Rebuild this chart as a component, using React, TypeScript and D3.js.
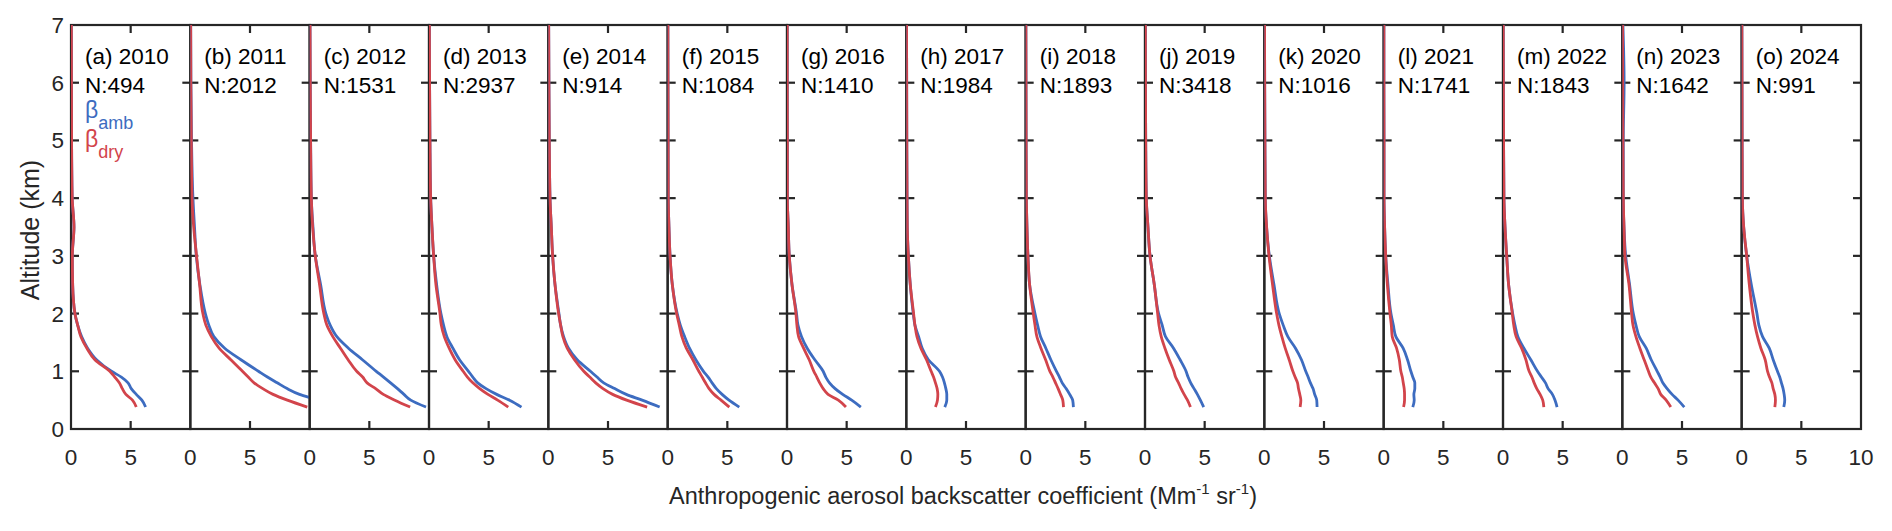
import React from "react";
import * as d3 from "d3";

// altitude grid (km) shared by every profile
const altitude = [0.38, 0.5, 0.6, 0.7, 0.8, 0.9, 1.0, 1.2, 1.4, 1.6, 1.8, 2.0, 2.5, 3.0, 3.5, 4.0, 5.0, 6.0, 7.0];

const panelLetters = ["a", "b", "c", "d", "e", "f", "g", "h", "i", "j", "k", "l", "m", "n", "o"];
const years = [2010, 2011, 2012, 2013, 2014, 2015, 2016, 2017, 2018, 2019, 2020, 2021, 2022, 2023, 2024];
const sampleCounts = [494, 2012, 1531, 2937, 914, 1084, 1410, 1984, 1893, 3418, 1016, 1741, 1843, 1642, 991];

// ambient backscatter, one row per year (Mm-1 sr-1)
const betaAmb = [
    [6.25, 5.94, 5.47, 5.05, 4.78, 4.22, 3.39, 2.14, 1.39, 0.89, 0.56, 0.33, 0.14, 0.11, 0.25, 0.1, 0.05, 0.04, 0.03],
    [12.0, 10.7, 9.15, 8.11, 7.28, 6.46, 5.71, 4.24, 2.88, 1.97, 1.55, 1.26, 0.8, 0.5, 0.35, 0.22, 0.1, 0.05, 0.03],
    [9.75, 8.47, 7.9, 7.36, 6.78, 6.19, 5.58, 4.42, 3.25, 2.28, 1.72, 1.36, 0.92, 0.47, 0.28, 0.14, 0.08, 0.05, 0.03],
    [7.75, 6.75, 5.67, 4.78, 4.08, 3.67, 3.31, 2.56, 2.0, 1.5, 1.22, 1.0, 0.64, 0.39, 0.25, 0.14, 0.08, 0.05, 0.03],
    [9.33, 7.86, 6.53, 5.56, 4.64, 4.08, 3.53, 2.42, 1.69, 1.28, 1.03, 0.89, 0.56, 0.36, 0.25, 0.14, 0.08, 0.05, 0.03],
    [6.0, 5.14, 4.56, 4.08, 3.72, 3.39, 3.0, 2.36, 1.83, 1.42, 1.06, 0.8, 0.39, 0.2, 0.11, 0.05, 0.04, 0.03, 0.02],
    [6.19, 5.42, 4.67, 4.03, 3.56, 3.25, 3.03, 2.33, 1.69, 1.22, 0.92, 0.8, 0.42, 0.19, 0.11, 0.03, 0.03, 0.02, 0.02],
    [3.22, 3.39, 3.39, 3.31, 3.19, 3.03, 2.78, 1.85, 1.33, 1.03, 0.72, 0.58, 0.33, 0.17, 0.08, 0.06, 0.04, 0.03, 0.02],
    [4.0, 3.94, 3.69, 3.39, 3.06, 2.83, 2.58, 2.11, 1.69, 1.25, 1.0, 0.78, 0.33, 0.19, 0.11, 0.06, 0.04, 0.03, 0.02],
    [4.92, 4.64, 4.39, 4.11, 3.83, 3.61, 3.44, 2.94, 2.39, 1.72, 1.44, 1.14, 0.78, 0.42, 0.25, 0.11, 0.06, 0.04, 0.03],
    [4.42, 4.39, 4.22, 4.08, 3.86, 3.67, 3.47, 3.11, 2.61, 1.97, 1.58, 1.25, 0.81, 0.42, 0.19, 0.08, 0.05, 0.03, 0.02],
    [2.44, 2.56, 2.53, 2.61, 2.61, 2.44, 2.28, 2.0, 1.63, 1.02, 0.81, 0.61, 0.36, 0.17, 0.08, 0.03, 0.03, 0.02, 0.02],
    [4.53, 4.36, 4.14, 3.78, 3.56, 3.22, 2.89, 2.33, 1.75, 1.25, 1.0, 0.81, 0.47, 0.31, 0.17, 0.08, 0.05, 0.03, 0.02],
    [5.19, 4.67, 4.17, 3.75, 3.39, 3.17, 2.92, 2.42, 2.0, 1.42, 1.14, 0.92, 0.61, 0.28, 0.14, 0.08, 0.08, 0.15, 0.05],
    [3.53, 3.61, 3.56, 3.47, 3.33, 3.19, 3.0, 2.64, 2.31, 1.75, 1.44, 1.28, 0.81, 0.42, 0.17, 0.06, 0.04, 0.03, 0.02],
];

// dry backscatter, one row per year (Mm-1 sr-1)
const betaDry = [
    [5.47, 5.15, 4.6, 4.3, 4.05, 3.67, 3.25, 2.0, 1.33, 0.83, 0.56, 0.33, 0.14, 0.11, 0.25, 0.1, 0.05, 0.04, 0.03],
    [9.8, 8.13, 6.93, 6.07, 5.34, 4.85, 4.37, 3.39, 2.41, 1.76, 1.3, 1.05, 0.78, 0.52, 0.28, 0.14, 0.08, 0.04, 0.03],
    [8.42, 7.14, 6.17, 5.53, 4.81, 4.44, 3.94, 3.22, 2.58, 1.94, 1.44, 1.19, 0.83, 0.47, 0.25, 0.14, 0.08, 0.05, 0.03],
    [6.64, 5.75, 4.94, 4.25, 3.67, 3.22, 2.86, 2.19, 1.69, 1.28, 1.03, 0.92, 0.58, 0.39, 0.25, 0.14, 0.08, 0.05, 0.03],
    [8.28, 6.56, 5.39, 4.58, 3.97, 3.47, 2.97, 2.19, 1.58, 1.22, 1.03, 0.86, 0.56, 0.36, 0.25, 0.14, 0.08, 0.05, 0.03],
    [5.17, 4.47, 3.89, 3.47, 3.17, 2.89, 2.61, 2.11, 1.56, 1.19, 0.97, 0.75, 0.39, 0.2, 0.11, 0.05, 0.04, 0.03, 0.02],
    [4.94, 4.3, 3.44, 3.03, 2.74, 2.5, 2.25, 1.86, 1.39, 0.97, 0.83, 0.75, 0.42, 0.19, 0.11, 0.03, 0.03, 0.02, 0.02],
    [2.44, 2.61, 2.64, 2.58, 2.44, 2.28, 2.08, 1.69, 1.22, 0.89, 0.72, 0.61, 0.33, 0.17, 0.08, 0.06, 0.04, 0.03, 0.02],
    [3.17, 3.11, 2.92, 2.72, 2.5, 2.28, 2.03, 1.67, 1.28, 0.94, 0.78, 0.64, 0.33, 0.19, 0.11, 0.06, 0.04, 0.03, 0.02],
    [3.81, 3.56, 3.28, 3.03, 2.81, 2.56, 2.42, 2.03, 1.67, 1.36, 1.17, 1.06, 0.78, 0.42, 0.25, 0.11, 0.06, 0.04, 0.03],
    [3.0, 3.06, 2.97, 2.86, 2.78, 2.58, 2.39, 2.08, 1.75, 1.47, 1.22, 1.03, 0.69, 0.39, 0.19, 0.08, 0.05, 0.03, 0.02],
    [1.67, 1.75, 1.75, 1.72, 1.64, 1.56, 1.44, 1.31, 1.08, 0.72, 0.64, 0.53, 0.31, 0.17, 0.08, 0.03, 0.03, 0.02, 0.02],
    [3.42, 3.33, 3.11, 2.83, 2.61, 2.42, 2.19, 1.92, 1.56, 1.1, 0.9, 0.78, 0.47, 0.31, 0.17, 0.08, 0.05, 0.03, 0.02],
    [4.06, 3.67, 3.22, 3.0, 2.69, 2.39, 2.19, 1.83, 1.47, 1.14, 0.89, 0.78, 0.56, 0.22, 0.14, 0.08, 0.05, 0.03, 0.02],
    [2.78, 2.83, 2.78, 2.64, 2.53, 2.33, 2.17, 1.97, 1.61, 1.33, 1.11, 0.94, 0.64, 0.42, 0.17, 0.06, 0.04, 0.03, 0.02],
];

const xTickValues = [0, 5, 10];
const yTickValues = [0, 1, 2, 3, 4, 5, 6, 7];

const width = 1892;
const height = 531;
const plotLeft = 71;
const plotRight = 1861;
const plotTop = 25;
const plotBottom = 429;

const blue = "#3d6cc0";
const red = "#d2444b";
const axisColor = "#262626";
const font = "'Liberation Sans', Arial, Helvetica, sans-serif";
const tickLen = 8;

const App: React.FC = () => {
    const panelWidth = (plotRight - plotLeft) / years.length;
    const yScale = d3.scaleLinear().domain([0, 7]).range([plotBottom, plotTop]);

    return (
        <svg width={width} height={height} style={{position: "absolute", left: 0, top: 0}}
             fontFamily={font}>
            <rect width={width} height={height} fill="white"/>
            <defs>
                {years.map((y, i) => (
                    <clipPath id={`clip-${i}`} key={y}>
                        <rect x={plotLeft + i * panelWidth} y={plotTop}
                              width={panelWidth} height={plotBottom - plotTop}/>
                    </clipPath>
                ))}
            </defs>

            {years.map((year, i) => {
                const x0 = plotLeft + i * panelWidth;
                const xScale = d3.scaleLinear().domain([0, 10]).range([x0, x0 + panelWidth]);
                const line = d3.line<number>()
                    .x(v => xScale(v))
                    .y((_, k) => yScale(altitude[k]))
                    .curve(d3.curveMonotoneY);
                const innerY = yTickValues.slice(1, -1);
                return (
                    <g key={year}>
                        {/* box */}
                        <rect x={x0} y={plotTop} width={panelWidth} height={plotBottom - plotTop}
                              fill="none" stroke={axisColor} strokeWidth={2.2}/>
                        {/* x ticks, inward top and bottom */}
                        {xTickValues.slice(1, -1).map(t => (
                            <g key={t}>
                                <line x1={xScale(t)} x2={xScale(t)} y1={plotBottom} y2={plotBottom - tickLen}
                                      stroke={axisColor} strokeWidth={2.2}/>
                                <line x1={xScale(t)} x2={xScale(t)} y1={plotTop} y2={plotTop + tickLen}
                                      stroke={axisColor} strokeWidth={2.2}/>
                            </g>
                        ))}
                        {/* y ticks, inward left and right */}
                        {innerY.map(t => (
                            <g key={t}>
                                <line x1={x0} x2={x0 + tickLen} y1={yScale(t)} y2={yScale(t)}
                                      stroke={axisColor} strokeWidth={2.2}/>
                                <line x1={x0 + panelWidth} x2={x0 + panelWidth - tickLen} y1={yScale(t)}
                                      y2={yScale(t)} stroke={axisColor} strokeWidth={2.2}/>
                            </g>
                        ))}
                        {/* profiles */}
                        <g clipPath={`url(#clip-${i})`}>
                            <path d={line(betaAmb[i]) ?? ""} fill="none" stroke={blue} strokeWidth={2.8}
                                  strokeLinejoin="round"/>
                            <path d={line(betaDry[i]) ?? ""} fill="none" stroke={red} strokeWidth={2.8}
                                  strokeLinejoin="round"/>
                        </g>
                        {/* x tick labels */}
                        {xTickValues.filter(t => t < 10 || i === years.length - 1).map(t => (
                            <text key={t} x={xScale(t)} y={465} textAnchor="middle" fontSize={22.5}
                                  fill={axisColor}>{t}</text>
                        ))}
                        {/* panel label */}
                        <text x={x0 + 14} y={64} fontSize={22.5} fill="black">
                            ({panelLetters[i]}) {year}
                        </text>
                        <text x={x0 + 14} y={93} fontSize={22.5} fill="black">N:{sampleCounts[i]}</text>
                    </g>
                );
            })}

            {/* y tick labels */}
            {yTickValues.map(t => (
                <text key={t} x={64} y={yScale(t) + 8} textAnchor="end" fontSize={22.5}
                      fill={axisColor}>{t}</text>
            ))}

            {/* legend */}
            <text x={85} y={118} fontSize={23} fill={blue}>
                β<tspan fontSize={18} dy={11}>amb</tspan>
            </text>
            <text x={85} y={147} fontSize={23} fill={red}>
                β<tspan fontSize={18} dy={11}>dry</tspan>
            </text>

            {/* axis titles */}
            <text transform={`translate(39, ${(plotTop + plotBottom) / 2 + 3}) rotate(-90)`}
                  textAnchor="middle" fontSize={25} fill={axisColor}>Altitude (km)</text>
            <text x={963} y={504} textAnchor="middle" fontSize={23.5} fill={axisColor}>
                Anthropogenic aerosol backscatter coefficient (Mm
                <tspan fontSize={15} dy={-10}>-1</tspan>
                <tspan dy={10}> sr</tspan>
                <tspan fontSize={15} dy={-10}>-1</tspan>
                <tspan dy={10}>)</tspan>
            </text>
        </svg>
    );
};

export default App;
